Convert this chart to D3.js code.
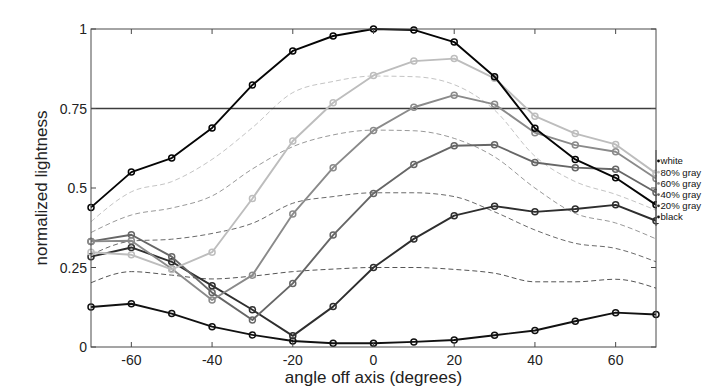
<!DOCTYPE html>
<html>
<head>
<meta charset="utf-8">
<script src="https://cdn.jsdelivr.net/npm/d3@7"></script>
<style>
  html, body { margin: 0; padding: 0; background: #fff; }
  svg { display: block; }
</style>
</head>
<body>
<div id="chart"></div>
<script>
// angles (degrees) where each curve was measured
const angles = [-70, -60, -50, -40, -30, -20, -10, 0, 10, 20, 30, 40, 50, 60, 70];

const seriesNames = ["white", "80% gray", "60% gray", "40% gray", "20% gray", "black"];
const whiteVals  = [0.439, 0.550, 0.594, 0.689, 0.824, 0.931, 0.978, 1.000, 0.997, 0.959, 0.850, 0.688, 0.590, 0.532, 0.447];
const gray80Vals = [0.298, 0.290, 0.244, 0.298, 0.467, 0.648, 0.768, 0.854, 0.899, 0.907, 0.845, 0.726, 0.671, 0.637, 0.546];
const gray60Vals = [0.332, 0.334, 0.246, 0.148, 0.226, 0.418, 0.564, 0.681, 0.754, 0.792, 0.763, 0.674, 0.635, 0.614, 0.530];
const gray40Vals = [0.332, 0.353, 0.284, 0.171, 0.085, 0.200, 0.352, 0.483, 0.574, 0.633, 0.636, 0.580, 0.564, 0.559, 0.486];
const gray20Vals = [0.284, 0.313, 0.268, 0.193, 0.117, 0.035, 0.127, 0.250, 0.340, 0.413, 0.443, 0.425, 0.434, 0.447, 0.397];
const blackVals  = [0.126, 0.136, 0.105, 0.064, 0.038, 0.019, 0.012, 0.012, 0.016, 0.022, 0.037, 0.052, 0.081, 0.108, 0.102];

// dashed reference curves (no markers)
const refLight  = [0.394, 0.488, 0.520, 0.590, 0.690, 0.800, 0.835, 0.852, 0.850, 0.825, 0.745, 0.600, 0.520, 0.480, 0.430];
const refMid    = [0.360, 0.415, 0.437, 0.475, 0.560, 0.630, 0.667, 0.682, 0.680, 0.656, 0.598, 0.500, 0.420, 0.390, 0.340];
const refDark   = [0.290, 0.333, 0.339, 0.357, 0.389, 0.452, 0.473, 0.485, 0.485, 0.473, 0.425, 0.368, 0.326, 0.310, 0.268];
const refDarker = [0.202, 0.237, 0.226, 0.214, 0.223, 0.237, 0.245, 0.250, 0.250, 0.244, 0.232, 0.205, 0.205, 0.213, 0.185];

const xTicks = [-60, -40, -20, 0, 20, 40, 60];
const yTicks = [0, 0.25, 0.5, 0.75, 1];
const yTickLabels = ["0", "0.25", "0.5", "0.75", "1"];
const refLevel = 0.75;

const width = 702, height = 390;
const margin = { left: 91, right: 46, top: 29, bottom: 43 };

const svg = d3.select("#chart").append("svg")
  .attr("width", width)
  .attr("height", height)
  .style("font-family", "'Liberation Sans', Arial, sans-serif");

const x = d3.scaleLinear().domain([-70, 70]).range([margin.left, width - margin.right]);
const y = d3.scaleLinear().domain([0, 1]).range([height - margin.bottom, margin.top]);

const axisColor = "#4a4a4a";
const tickLen = 5;

// dashed reference curves
const refs = [
  { vals: refLight,  color: "#c4c4c4" },
  { vals: refMid,    color: "#999999" },
  { vals: refDark,   color: "#6a6a6a" },
  { vals: refDarker, color: "#555555" }
];
const smooth = d3.line()
  .curve(d3.curveMonotoneX)
  .x((d, i) => x(angles[i]))
  .y(d => y(d));

svg.append("g")
  .selectAll("path")
  .data(refs)
  .enter()
  .append("path")
  .attr("d", r => smooth(r.vals))
  .attr("fill", "none")
  .attr("stroke", r => r.color)
  .attr("stroke-width", 1)
  .attr("stroke-dasharray", "5,3");

// 0.75 reference line
svg.append("line")
  .attr("x1", x(-70)).attr("x2", x(70))
  .attr("y1", y(refLevel)).attr("y2", y(refLevel))
  .attr("stroke", "#3c3c3c")
  .attr("stroke-width", 1.3);

// measured curves, drawn bottom to top
const series = [
  { name: "black",    vals: blackVals,  color: "#111111" },
  { name: "20% gray", vals: gray20Vals, color: "#2e2e2e" },
  { name: "40% gray", vals: gray40Vals, color: "#666666" },
  { name: "60% gray", vals: gray60Vals, color: "#8a8a8a" },
  { name: "80% gray", vals: gray80Vals, color: "#bdbdbd" },
  { name: "white",    vals: whiteVals,  color: "#050505" }
];
const straight = d3.line()
  .x((d, i) => x(angles[i]))
  .y(d => y(d));

const groups = svg.append("g")
  .selectAll("g")
  .data(series)
  .enter()
  .append("g");

groups.append("path")
  .attr("d", s => straight(s.vals))
  .attr("fill", "none")
  .attr("stroke", s => s.color)
  .attr("stroke-width", 1.9)
  .attr("stroke-linejoin", "round");

groups.selectAll("circle")
  .data(s => s.vals.map((v, i) => ({ v, a: angles[i], color: s.color })))
  .enter()
  .append("circle")
  .attr("cx", d => x(d.a))
  .attr("cy", d => y(d.v))
  .attr("r", 3)
  .attr("fill", "none")
  .attr("stroke", d => d.color)
  .attr("stroke-width", 1.5);

// axis box with inward ticks on all four sides
const box = svg.append("g").attr("stroke", axisColor).attr("stroke-width", 1);
box.append("rect")
  .attr("x", x(-70)).attr("y", y(1))
  .attr("width", x(70) - x(-70)).attr("height", y(0) - y(1))
  .attr("fill", "none");

box.selectAll("line.xb")
  .data(xTicks).enter().append("line")
  .attr("x1", d => x(d)).attr("x2", d => x(d))
  .attr("y1", y(0)).attr("y2", y(0) - tickLen);
box.selectAll("line.xt")
  .data(xTicks).enter().append("line")
  .attr("x1", d => x(d)).attr("x2", d => x(d))
  .attr("y1", y(1)).attr("y2", y(1) + tickLen);
box.selectAll("line.yl")
  .data(yTicks).enter().append("line")
  .attr("x1", x(-70)).attr("x2", x(-70) + tickLen)
  .attr("y1", d => y(d)).attr("y2", d => y(d));
box.selectAll("line.yr")
  .data(yTicks).enter().append("line")
  .attr("x1", x(70)).attr("x2", x(70) - tickLen)
  .attr("y1", d => y(d)).attr("y2", d => y(d));

// tick labels
svg.append("g")
  .selectAll("text")
  .data(xTicks).enter().append("text")
  .attr("x", d => x(d))
  .attr("y", y(0) + 18)
  .attr("text-anchor", "middle")
  .attr("font-size", 14)
  .attr("fill", "#222")
  .text(d => d);

svg.append("g")
  .selectAll("text")
  .data(yTicks).enter().append("text")
  .attr("x", x(-70) - 4)
  .attr("y", d => y(d) + 5)
  .attr("text-anchor", "end")
  .attr("font-size", 14)
  .attr("fill", "#222")
  .text((d, i) => yTickLabels[i]);

// axis titles
svg.append("text")
  .attr("x", (x(-70) + x(70)) / 2)
  .attr("y", 383)
  .attr("text-anchor", "middle")
  .attr("font-size", 17)
  .attr("fill", "#222")
  .text("angle off axis (degrees)");

svg.append("text")
  .attr("transform", `translate(47, ${(y(0) + y(1)) / 2}) rotate(-90)`)
  .attr("text-anchor", "middle")
  .attr("font-size", 17)
  .attr("fill", "#222")
  .text("normalized lightness");

// legend squeezed against the right edge like the original
const legendColors = {};
series.forEach(s => { legendColors[s.name] = s.color; });
const legend = svg.append("g");
legend.append("rect")
  .attr("x", x(70) + 1).attr("y", 153)
  .attr("width", 50).attr("height", 70)
  .attr("fill", "#fff");
// redraw the box edge over the legend background
legend.append("line")
  .attr("x1", x(70)).attr("x2", x(70))
  .attr("y1", 150).attr("y2", 226)
  .attr("stroke", axisColor);

const items = legend.selectAll("g")
  .data(seriesNames).enter().append("g")
  .attr("transform", (d, i) => `translate(${x(70) + 2.5}, ${161 + i * 11.2})`);
items.append("circle")
  .attr("r", 1.4)
  .attr("fill", d => legendColors[d]);
items.append("text")
  .attr("x", 2)
  .attr("y", 3.4)
  .attr("font-size", 9.6)
  .attr("fill", "#111")
  .text(d => d);
</script>
</body>
</html>
